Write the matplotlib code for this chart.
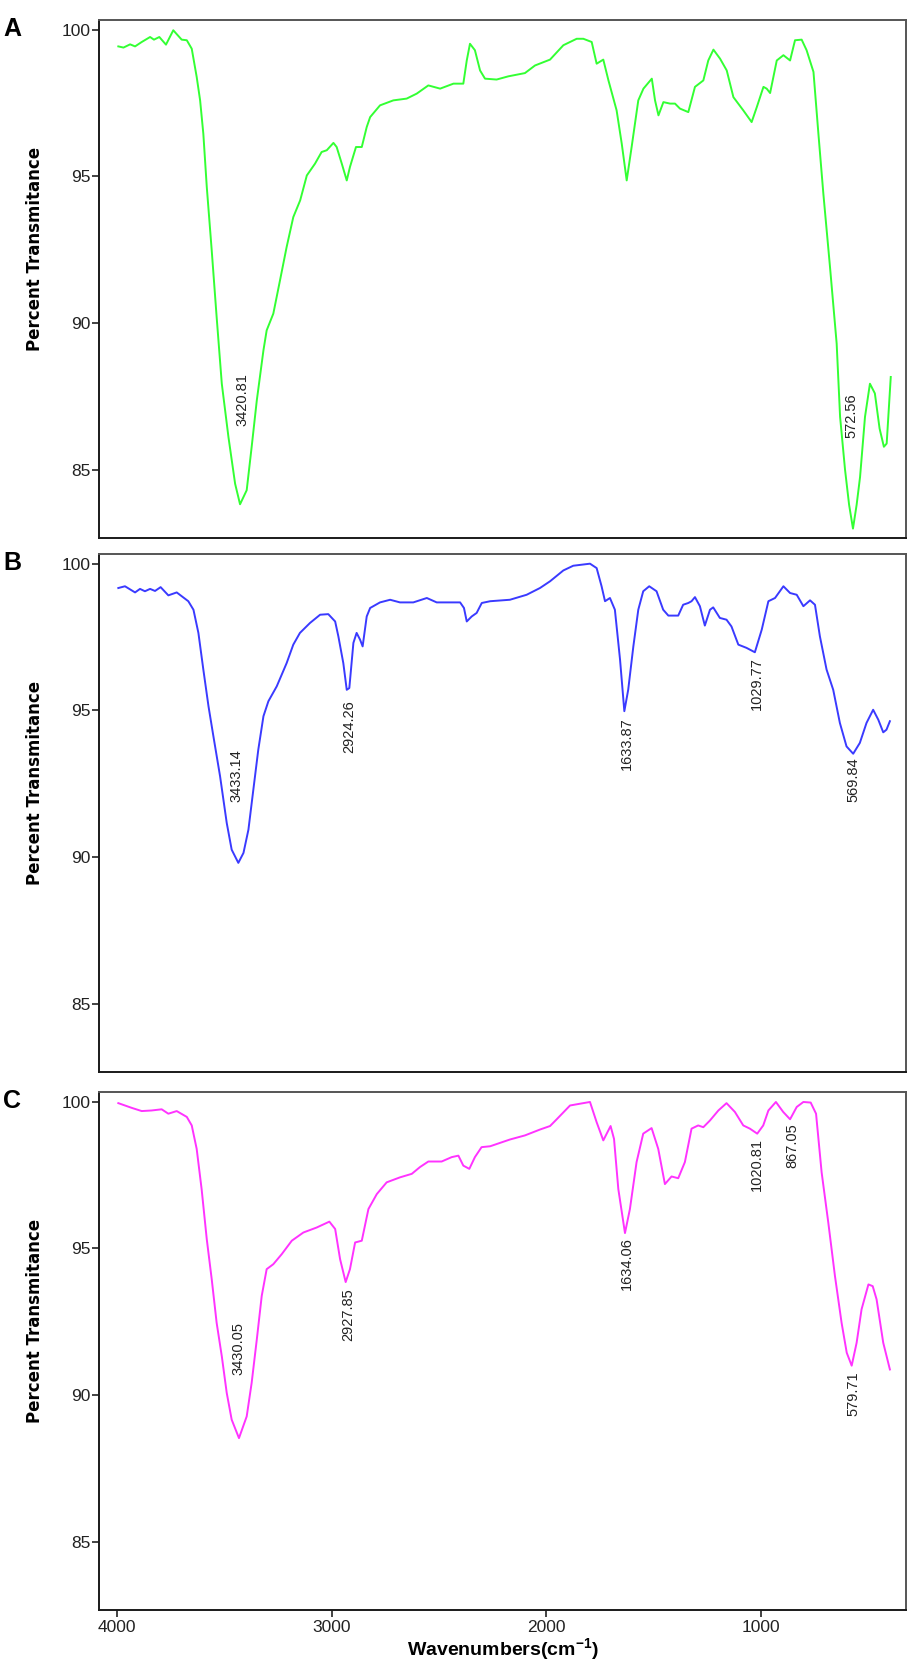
import matplotlib
matplotlib.use("Agg")
import matplotlib.pyplot as plt
from matplotlib.ticker import FixedLocator

# ---------------- data ----------------
wn_a = [3994, 3970, 3939, 3916, 3885, 3846, 3828, 3803, 3772, 3738, 3699, 3675, 3652, 3629,
        3613, 3598, 3582, 3559, 3536, 3512, 3481, 3450, 3427, 3396, 3373, 3349, 3318, 3303,
        3272, 3241, 3210, 3179, 3147, 3116, 3078, 3047, 3023, 2992, 2977, 2953, 2930, 2915,
        2887, 2860, 2837, 2821, 2775, 2713, 2651, 2604, 2550, 2495, 2433, 2402, 2387, 2371,
        2356, 2333, 2309, 2286, 2232, 2177, 2100, 2053, 1983, 1921, 1859, 1828, 1789, 1766,
        1735, 1711, 1673, 1649, 1626, 1603, 1572, 1548, 1509, 1494, 1478, 1455, 1424, 1401,
        1378, 1339, 1308, 1269, 1246, 1222, 1191, 1160, 1129, 1083, 1044, 1020, 989, 974,
        958, 927, 896, 865, 842, 811, 788, 756, 733, 710, 679, 648, 632, 609, 590, 572,
        555, 539, 516, 493, 470, 448, 428, 415, 396]
t_a = [99.43, 99.39, 99.50, 99.43, 99.58, 99.75, 99.66, 99.75, 99.49, 99.98, 99.66, 99.64,
       99.35, 98.39, 97.59, 96.45, 94.64, 92.48, 90.20, 87.93, 86.11, 84.52, 83.82, 84.30,
       85.77, 87.36, 89.07, 89.75, 90.32, 91.45, 92.59, 93.61, 94.18, 95.03, 95.43, 95.83,
       95.89, 96.14, 96.00, 95.43, 94.86, 95.32, 96.00, 96.00, 96.68, 97.02, 97.42, 97.59,
       97.65, 97.82, 98.10, 97.99, 98.16, 98.16, 98.16, 98.95, 99.52, 99.30, 98.61, 98.33,
       98.30, 98.41, 98.52, 98.78, 98.98, 99.47, 99.69, 99.69, 99.58, 98.84, 98.98, 98.27,
       97.25, 96.11, 94.86, 96.00, 97.59, 97.99, 98.33, 97.59, 97.08, 97.53, 97.48, 97.48,
       97.31, 97.19, 98.05, 98.27, 98.95, 99.32, 99.01, 98.61, 97.70, 97.25, 96.85, 97.36,
       98.05, 97.99, 97.84, 98.95, 99.13, 98.95, 99.64, 99.66, 99.30, 98.56, 96.45, 94.41,
       91.91, 89.30, 86.80, 85.00, 83.80, 82.99, 83.80, 84.75, 86.80, 87.93, 87.60, 86.40,
       85.78, 85.89, 88.16]

wn_b = [3994, 3963, 3916, 3893, 3870, 3846, 3823, 3797, 3761, 3722, 3668, 3644, 3621, 3598,
        3574, 3551, 3520, 3489, 3466, 3435, 3411, 3388, 3365, 3342, 3318, 3295, 3256, 3210,
        3179, 3148, 3101, 3054, 3016, 2984, 2969, 2946, 2930, 2918, 2899, 2884, 2868, 2856,
        2837, 2821, 2775, 2728, 2682, 2620, 2557, 2511, 2402, 2384, 2371, 2348, 2325, 2301,
        2262, 2170, 2092, 2030, 1983, 1921, 1875, 1797, 1766, 1743, 1727, 1704, 1681, 1657,
        1637, 1619, 1595, 1572, 1549, 1521, 1487, 1456, 1432, 1386, 1363, 1339, 1324, 1308,
        1285, 1262, 1238, 1223, 1192, 1161, 1138, 1106, 1068, 1029, 997, 966, 935, 896, 865,
        834, 803, 772, 749, 726, 695, 664, 633, 602, 571, 540, 509, 478, 454, 431, 416, 400]
t_b = [99.17, 99.23, 99.02, 99.14, 99.06, 99.14, 99.07, 99.20, 98.92, 99.02, 98.72, 98.43,
       97.64, 96.39, 95.14, 94.11, 92.75, 91.16, 90.25, 89.80, 90.14, 90.93, 92.30, 93.66,
       94.80, 95.31, 95.82, 96.61, 97.24, 97.64, 97.98, 98.26, 98.28, 98.03, 97.52, 96.61,
       95.70, 95.76, 97.30, 97.64, 97.41, 97.18, 98.20, 98.49, 98.68, 98.77, 98.68, 98.68,
       98.83, 98.68, 98.68, 98.49, 98.03, 98.20, 98.32, 98.66, 98.72, 98.77, 98.94, 99.17,
       99.40, 99.77, 99.93, 100.00, 99.85, 99.23, 98.72, 98.83, 98.43, 96.73, 94.97, 95.70,
       97.18, 98.43, 99.06, 99.23, 99.06, 98.43, 98.23, 98.23, 98.60, 98.66, 98.72, 98.86,
       98.55, 97.89, 98.43, 98.51, 98.15, 98.09, 97.86, 97.24, 97.13, 96.98, 97.75, 98.72,
       98.83, 99.23, 99.00, 98.94, 98.55, 98.75, 98.60, 97.52, 96.39, 95.70, 94.57, 93.77,
       93.52, 93.89, 94.57, 95.02, 94.68, 94.25, 94.34, 94.63]

wn_c = [3994, 3963, 3932, 3885, 3839, 3792, 3761, 3722, 3675, 3652, 3629, 3606, 3582, 3559,
        3536, 3512, 3489, 3466, 3432, 3396, 3373, 3349, 3326, 3303, 3272, 3233, 3186, 3132,
        3070, 3011, 2984, 2961, 2935, 2915, 2891, 2860, 2829, 2790, 2744, 2682, 2627, 2589,
        2550, 2488, 2441, 2410, 2387, 2359, 2333, 2302, 2262, 2170, 2100, 2030, 1983, 1952,
        1890, 1844, 1797, 1766, 1735, 1701, 1685, 1665, 1634, 1611, 1580, 1549, 1510, 1479,
        1448, 1417, 1386, 1355, 1324, 1293, 1269, 1238, 1199, 1161, 1122, 1083, 1052, 1018,
        990, 966, 931, 897, 865, 834, 803, 769, 744, 718, 687, 656, 625, 601, 578, 555, 532,
        500, 480, 462, 431, 400]
t_c = [99.95, 99.87, 99.79, 99.68, 99.70, 99.74, 99.59, 99.68, 99.48, 99.19, 98.39, 97.02,
       95.31, 93.95, 92.46, 91.32, 90.07, 89.16, 88.53, 89.27, 90.41, 91.89, 93.38, 94.29,
       94.46, 94.80, 95.26, 95.54, 95.71, 95.91, 95.66, 94.63, 93.85, 94.29, 95.20, 95.26,
       96.34, 96.85, 97.25, 97.42, 97.54, 97.77, 97.96, 97.96, 98.11, 98.16, 97.82, 97.71,
       98.11, 98.45, 98.48, 98.71, 98.85, 99.05, 99.17, 99.40, 99.87, 99.93, 99.99, 99.30,
       98.68, 99.17, 98.73, 97.02, 95.52, 96.34, 97.94, 98.91, 99.10, 98.39, 97.19, 97.45,
       97.39, 97.94, 99.08, 99.19, 99.13, 99.36, 99.70, 99.95, 99.65, 99.19, 99.08, 98.91,
       99.19, 99.70, 99.99, 99.65, 99.40, 99.82, 99.99, 99.97, 99.59, 97.59, 95.88, 94.06,
       92.46, 91.44, 91.00, 91.78, 92.92, 93.77, 93.71, 93.26, 91.78, 90.87]

# peak labels: text, wavenumber, top of text (percent)
lab_a = ["3420.81", "572.56"]
lab_a_x = [3418, 578]
lab_a_y = [88.3, 87.6]
lab_b = ["3433.14", "2924.26", "1633.87", "1029.77", "569.84"]
lab_b_x = [3443, 2919, 1625, 1019, 572]
lab_b_y = [93.66, 95.36, 94.75, 96.8, 93.4]
lab_c = ["3430.05", "2927.85", "1634.06", "1020.81", "867.05", "579.71"]
lab_c_x = [3436, 2924, 1625, 1019, 856, 572]
lab_c_y = [92.48, 93.64, 95.39, 98.77, 99.25, 90.8]

panel_letters = ["A", "B", "C"]
yticks = [85, 90, 95, 100]
xticks = [4000, 3000, 2000, 1000]

# ---------------- figure ----------------
W, H = 911, 1673
fig = plt.figure(figsize=(W / 100, H / 100), dpi=100)

narrow = ["Liberation Sans Narrow", "Liberation Sans", "DejaVu Sans"]

left = 99 / W
width = (906 - 99) / W
tops = [20, 554, 1092]
ph = 518

series = [(wn_a, t_a, "#33ff33", lab_a, lab_a_x, lab_a_y),
          (wn_b, t_b, "#3a3aff", lab_b, lab_b_x, lab_b_y),
          (wn_c, t_c, "#ff33ff", lab_c, lab_c_x, lab_c_y)]

for i, (wn, tt, col, labs, lx, ly) in enumerate(series):
    top = tops[i]
    ax = fig.add_axes([left, 1 - (top + ph) / H, width, ph / H])
    ax.plot(wn, tt, color=col, lw=1.4)
    ax.set_xlim(4084, 325)
    ax.set_ylim(82.67, 100.33)
    ax.yaxis.set_major_locator(FixedLocator(yticks))
    ax.set_yticklabels([str(v) for v in yticks], family=narrow, fontsize=12.5, color="#222222")
    ax.tick_params(axis="y", direction="out", length=5, width=1.2, pad=1, color="#222222")
    for s in ["left", "bottom"]:
        ax.spines[s].set_color("#1a1a1a")
        ax.spines[s].set_linewidth(1.4)
    for s in ["top", "right"]:
        ax.spines[s].set_color("#555555")
        ax.spines[s].set_linewidth(1.4)
    if i < 2:
        ax.set_xticks([])
    else:
        ax.xaxis.set_major_locator(FixedLocator(xticks))
        ax.set_xticklabels([str(v) for v in xticks], family=narrow, fontsize=12.5, color="#222222")
        ax.tick_params(axis="x", direction="out", length=5, width=1.2, pad=2, color="#222222")
        ax.set_xlabel("Wavenumbers(cm$^{\\mathregular{-1}}$)", family=narrow, fontsize=14,
                      fontweight="bold", labelpad=1)
    ax.set_ylabel("Percent Transmitance", family="DejaVu Sans", fontsize=12, fontweight="bold")
    ax.yaxis.set_label_coords(-0.068, 0.558)
    for t, x, y in zip(labs, lx, ly):
        ax.text(x, y, t, rotation=90, ha="center", va="top", fontsize=10.5,
                family=["Liberation Sans", "DejaVu Sans"], color="#222222",
                bbox=dict(facecolor="white", edgecolor="none", pad=0.3))
    fig.text(3 / W, 1 - (top - 3) / H, panel_letters[i], fontsize=18, fontweight="bold",
             family=["Liberation Sans", "DejaVu Sans"], ha="left", va="top")

fig.savefig("out.png", dpi=100, facecolor="white")
